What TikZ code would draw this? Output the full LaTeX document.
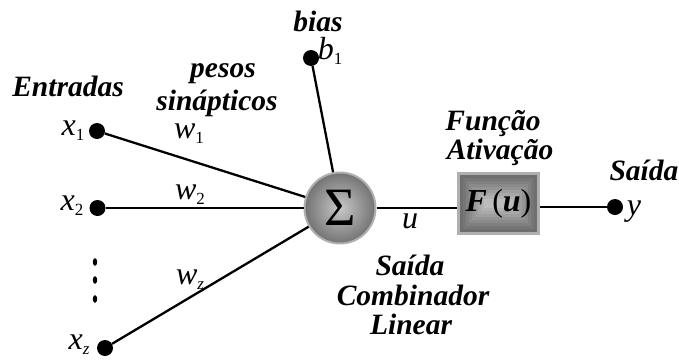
\documentclass[tikz,border=0pt]{standalone}
\usepackage{fontspec}
\usetikzlibrary{calc}
\setmainfont{Liberation Serif}
\newcommand\vsub[2]{\textit{#1}\raisebox{-0.35ex}{\fontsize{17}{17}\selectfont #2}}
\definecolor{ringgray}{RGB}{175,175,175}
\definecolor{sumin}{RGB}{200,200,200}
\definecolor{sumout}{RGB}{115,115,115}
\begin{document}
\begin{tikzpicture}[x=1pt,y=-1pt,
  lbl/.style={font=\fontsize{29.5}{30}\selectfont\bfseries\itshape, inner sep=0},
  var/.style={font=\fontsize{32}{32}\selectfont, inner sep=0},
  dot/.style={circle, fill=black, minimum size=16pt, inner sep=0},
  wire/.style={line width=2.3pt}]
\useasboundingbox (0,0) rectangle (679,359);
% input dots
\node[dot] (x1) at (97,131) {};
\node[dot] (x2) at (97.5,208) {};
\node[dot] (xz) at (105,348) {};
\node[dot] (b1) at (311,58) {};
\node[dot] (y) at (615,207) {};
% vertical dots
\foreach \yy in {262,280,299} \fill (95,\yy) ellipse (2.2 and 3.8);
% summation
\node[circle, minimum size=71pt, inner sep=0, draw=ringgray, line width=2pt,
  inner color=sumin, outer color=sumout, font=\fontsize{54}{54}\selectfont] (sum) at (340,208) {Σ};
% activation box
\node[rectangle, minimum width=83pt, minimum height=63pt, inner sep=0] (F) at (498.5,203.5) {};
\fill[ringgray] (F.north west) rectangle (F.south east);
\foreach \i/\g in {0/110,1/118,2/128,3/138,4/148,5/158,6/168,7/178,8/188} {
  \definecolor{lay}{RGB}{\g,\g,\g}
  \fill[lay] ($(F.north west)+(3+3*\i,3+3*\i)$) rectangle ($(F.south east)+(-3-3*\i,-3-3*\i)$);
}
\node[font=\fontsize{32}{32}\selectfont, inner sep=0] (Ftext) at (F.center) {\textbf{\textit{F}}\,(\textbf{\textit{u}})};
% wires
\draw[wire] (x1) -- (sum);
\draw[wire] (x2) -- (sum);
\draw[wire] (xz) -- (sum);
\draw[wire] (b1) -- (sum);
\draw[wire] (sum) -- (sum -| F.west);
\draw[wire] (y -| F.east) -- (y);
% text labels
\node[lbl] (tent) at (68,86) {Entradas};
\node[lbl] (tpes) at (223,74) {pesos};
\node[lbl] (tsin) at (217,103) {sinápticos};
\node[lbl] (tbias) at (318,21) {bias};
\node[lbl] (tfun) at (493,124) {Função};
\node[lbl] (tati) at (500,152) {Ativação};
\node[lbl] (tsai) at (644,170) {Saída};
\node[lbl] (tsai2) at (410,265) {Saída};
\node[lbl] (tcom) at (413,295) {Combinador};
\node[lbl] (tlin) at (411,324) {Linear};
% variables
\node[var] (lx1) at (73,131) {\vsub{x}{1}};
\node[var] (lx2) at (72,206) {\vsub{x}{2}};
\node[var] (lxz) at (79,345) {\vsub{x}{\textit{z}}};
\node[var] (lb1) at (330,51) {\vsub{b}{1}};
\node[var] (lw1) at (189,134) {\vsub{w}{1}};
\node[var] (lw2) at (190,195) {\vsub{w}{2}};
\node[var] (lwz) at (190,280) {\vsub{w}{\textit{z}}};
\node[var] (lu) at (410,221) {\textit{u}};
\node[var] (ly) at (634,212) {\textit{y}};
\end{tikzpicture}
\end{document}
